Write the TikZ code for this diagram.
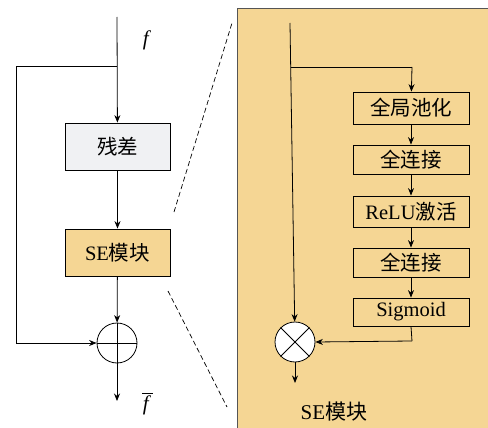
\documentclass[tikz,border=0pt]{standalone}
\usepackage{fontspec}
\setmainfont{Liberation Serif}
\newfontfamily\cjk{Noto Sans CJK SC}
\usetikzlibrary{arrows.meta}
\definecolor{panel}{HTML}{F5D694}
\definecolor{resbox}{HTML}{F0F1F3}
\definecolor{edgegray}{HTML}{555555}
\tikzset{
  arr/.style={-{Stealth[length=7.5pt,width=6pt]}, line width=0.8pt},
  ln/.style={line width=0.8pt},
  bigbox/.style={draw, line width=0.8pt, minimum width=105pt, minimum height=47pt, inner sep=0pt, font=\fontsize{20.5}{24}\selectfont},
  smallbox/.style={draw, line width=0.8pt, minimum width=116pt, inner sep=0pt, font=\fontsize{20.5}{24}\selectfont},
  op/.style={draw, circle, line width=0.8pt, minimum size=40pt, inner sep=0pt, fill=white},
  lbl/.style={font=\fontsize{21}{24}\selectfont, inner sep=0pt}
}
\begin{document}
\begin{tikzpicture}[x=1pt,y=-1pt]
\useasboundingbox (0,0) rectangle (488,428);
% right panel
\path[fill=panel, draw=edgegray, line width=0.8pt] (237,8) rectangle (492,432);
% dashed zoom lines
\coordinate (d1a) at (174,212);
\coordinate (d1b) at (232,23);
\coordinate (d2a) at (168,291);
\coordinate (d2b) at (227,407);
\draw[line width=0.7pt, dash pattern=on 5pt off 3pt] (d1a) -- (d1b);
\draw[line width=0.7pt, dash pattern=on 5pt off 3pt] (d2a) -- (d2b);
% left chain
\coordinate (fin) at (117,17);
\coordinate (lbr) at (117,66);
\coordinate (lc1) at (16,66);
\coordinate (lc2) at (16,343);
\coordinate (fout) at (117,401);
\node[bigbox, fill=resbox] (res) at (117.5,146.5) {\cjk 残差};
\node[bigbox, fill=panel] (se) at (117.5,252.5) {SE{\cjk 模块}};
\node[op] (add) at (117,343) {};
\draw[line width=0.8pt] (add.north) -- (add.south) (add.west) -- (add.east);
\draw[arr] (fin) -- (res);
\draw[ln] (lbr) -- (lc1) -- (lc2);
\draw[arr] (lc2) -- (add.west);
\draw[arr] (res) -- (se);
\draw[arr] (se) -- (add);
\draw[arr] (add) -- (fout);
\node[lbl] (f1) at (147,40) {\textit{f}};
\node[lbl] (f2) at (147,405) {\textit{f}};
\draw[line width=0.7pt] ([xshift=-0.5pt,yshift=1.5pt]f2.north west) -- ([xshift=1.5pt,yshift=1.5pt]f2.north east);
% right chain
\coordinate (rin) at (290,23);
\coordinate (rbr) at (290.7,67);
\coordinate (rc1) at (412,67);
\node[smallbox, minimum height=32pt] (b1) at (411,108) {\cjk 全局池化};
\node[smallbox, minimum height=29pt] (b2) at (411,159.5) {\cjk 全连接};
\node[smallbox, minimum height=31pt] (b3) at (411,211.5) {ReLU{\cjk 激活}};
\node[smallbox, minimum height=29pt] (b4) at (411,262.5) {\cjk 全连接};
\node[smallbox, minimum height=28pt] (b5) at (411,312) {Sigmoid};
\node[op] (mul) at (295,342) {};
\draw[line width=0.8pt] (mul.north west) -- (mul.south east) (mul.north east) -- (mul.south west);
\coordinate (rc2) at (412,341);
\coordinate (rout) at (295,383);
\draw[arr] (rin) -- (mul);
\draw[ln] (rbr) -- (rc1);
\draw[arr] (rc1) -- (b1);
\draw[arr] (b1) -- (b2);
\draw[arr] (b2) -- (b3);
\draw[arr] (b3) -- (b4);
\draw[arr] (b4) -- (b5);
\draw[ln] (b5.south) -- (rc2);
\draw[arr] (rc2) -- (mul.east);
\draw[arr] (mul) -- (rout);
\node[lbl] (selbl) at (334,412) {SE{\cjk 模块}};
\end{tikzpicture}
\end{document}
